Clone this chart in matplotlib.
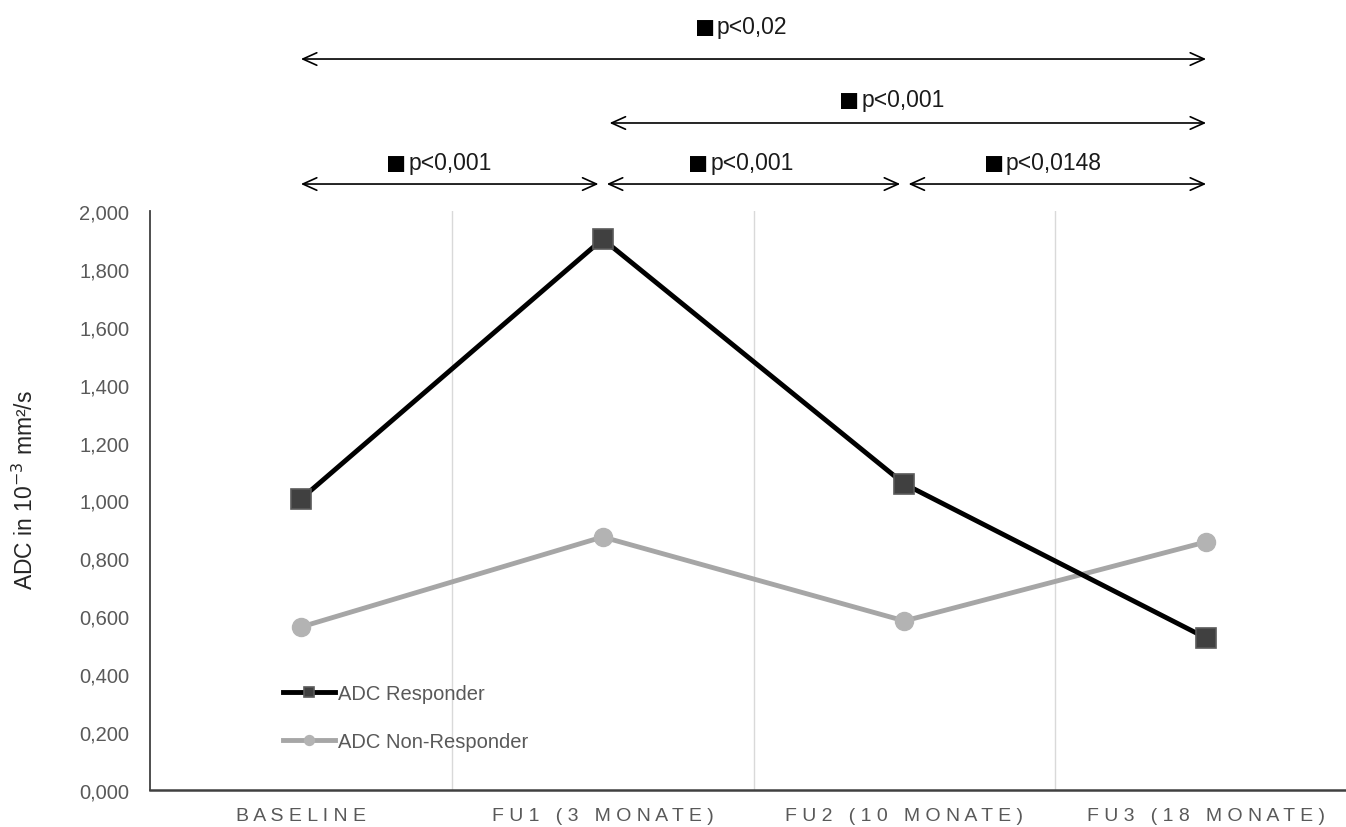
import matplotlib
matplotlib.use("Agg")
import matplotlib.pyplot as plt
import matplotlib.transforms as mtransforms

plt.rcParams['font.family'] = ['Liberation Sans', 'DejaVu Sans']

# data
categories = ["BASELINE", "FU1 (3 MONATE)", "FU2 (10 MONATE)", "FU3 (18 MONATE)"]
responder = [1.005, 1.903, 1.057, 0.525]
non_responder = [0.563, 0.874, 0.584, 0.857]
yticks = [0.0, 0.2, 0.4, 0.6, 0.8, 1.0, 1.2, 1.4, 1.6, 1.8, 2.0]

# significance brackets: (start, end, label)
brackets = [(0, 3, "p<0,02"), (1, 3, "p<0,001"),
            (0, 1, "p<0,001"), (1, 2, "p<0,001"), (2, 3, "p<0,0148")]
bracket_rows = [1.2625, 1.152, 1.0466, 1.0466, 1.0466]
label_rows = [1.318, 1.192, 1.0846, 1.0846, 1.0846]

fig = plt.figure(figsize=(13.46, 8.28), dpi=100)
ax = fig.add_axes([150 / 1346, 37 / 828, 1207 / 1346, 579 / 828])

x = range(len(categories))
ax.plot(x, responder, color="black", lw=3.5, marker="s", ms=14,
        mfc="#404040", mec="#5a5a5a", mew=1.2, label="ADC Responder", zorder=3)
ax.plot(x, non_responder, color="#a6a6a6", lw=3.5, marker="o", ms=13,
        mfc="#b3b3b3", mec="#b3b3b3", label="ADC Non-Responder", zorder=2)

ax.set_xlim(-0.5, 3.5)
ax.set_ylim(0, 2.0)
ax.set_yticks(yticks)
ax.set_yticklabels([f"{v:.3f}".replace(".", ",") for v in yticks],
                   color="#595959", fontsize=14.5)
ax.set_xticks(list(x))
spaced = [" ".join(list(c)) for c in categories]
ax.set_xticklabels(spaced, color="#595959", fontsize=14)
ax.tick_params(axis="y", length=0, pad=15)
ax.tick_params(axis="x", length=0, pad=12)

# vertical gridlines between categories
for b in [0.5, 1.5, 2.5]:
    ax.axvline(b, color="#d9d9d9", lw=1, zorder=0)

for s in ["top", "right"]:
    ax.spines[s].set_visible(False)
ax.spines["left"].set_color("#404040")
ax.spines["left"].set_linewidth(1.3)
ax.spines["bottom"].set_color("#404040")
ax.spines["bottom"].set_linewidth(1.8)

fig.text(25 / 1346, 1 - 490 / 828, r"ADC in 10$^{-3}$ mm²/s", rotation=90,
         ha="center", va="center", fontsize=16.5, color="#262626")

trans = mtransforms.blended_transform_factory(ax.transData, ax.transAxes)
for (a, b, lab), yr, yl in zip(brackets, bracket_rows, label_rows):
    sa = 0 if a in (0, 3) else (5 if b - a > 1 else 3)
    sb = 0 if b in (0, 3) else 3
    ax.annotate("", xy=(b, yr), xytext=(a, yr), xycoords=trans, textcoords=trans,
                arrowprops=dict(arrowstyle="<->,head_length=1.0,head_width=0.45",
                                color="black", lw=1.2, shrinkA=sa, shrinkB=sb),
                annotation_clip=False)
    ptxt = ax.annotate(lab, xy=((a + b) / 2, yl), xycoords=trans,
                       xytext=(-1, 0), textcoords="offset points",
                       ha="center", va="center", fontsize=16.5, color="#1a1a1a",
                       annotation_clip=False)
    ax.annotate("\u25a0", xy=(0, 0.5), xycoords=ptxt, xytext=(-1.5, -1.5),
                textcoords="offset points", ha="right", va="center",
                fontsize=24, color="black", annotation_clip=False)

ax.legend(loc="upper left", bbox_to_anchor=(265 / 1346, 1 - 667 / 828),
          bbox_transform=fig.transFigure, frameon=False, fontsize=14.5,
          handlelength=2.6, handletextpad=0.1, labelspacing=1.45,
          markerscale=0.55, labelcolor="#595959")

fig.savefig("out.png", dpi=100)
